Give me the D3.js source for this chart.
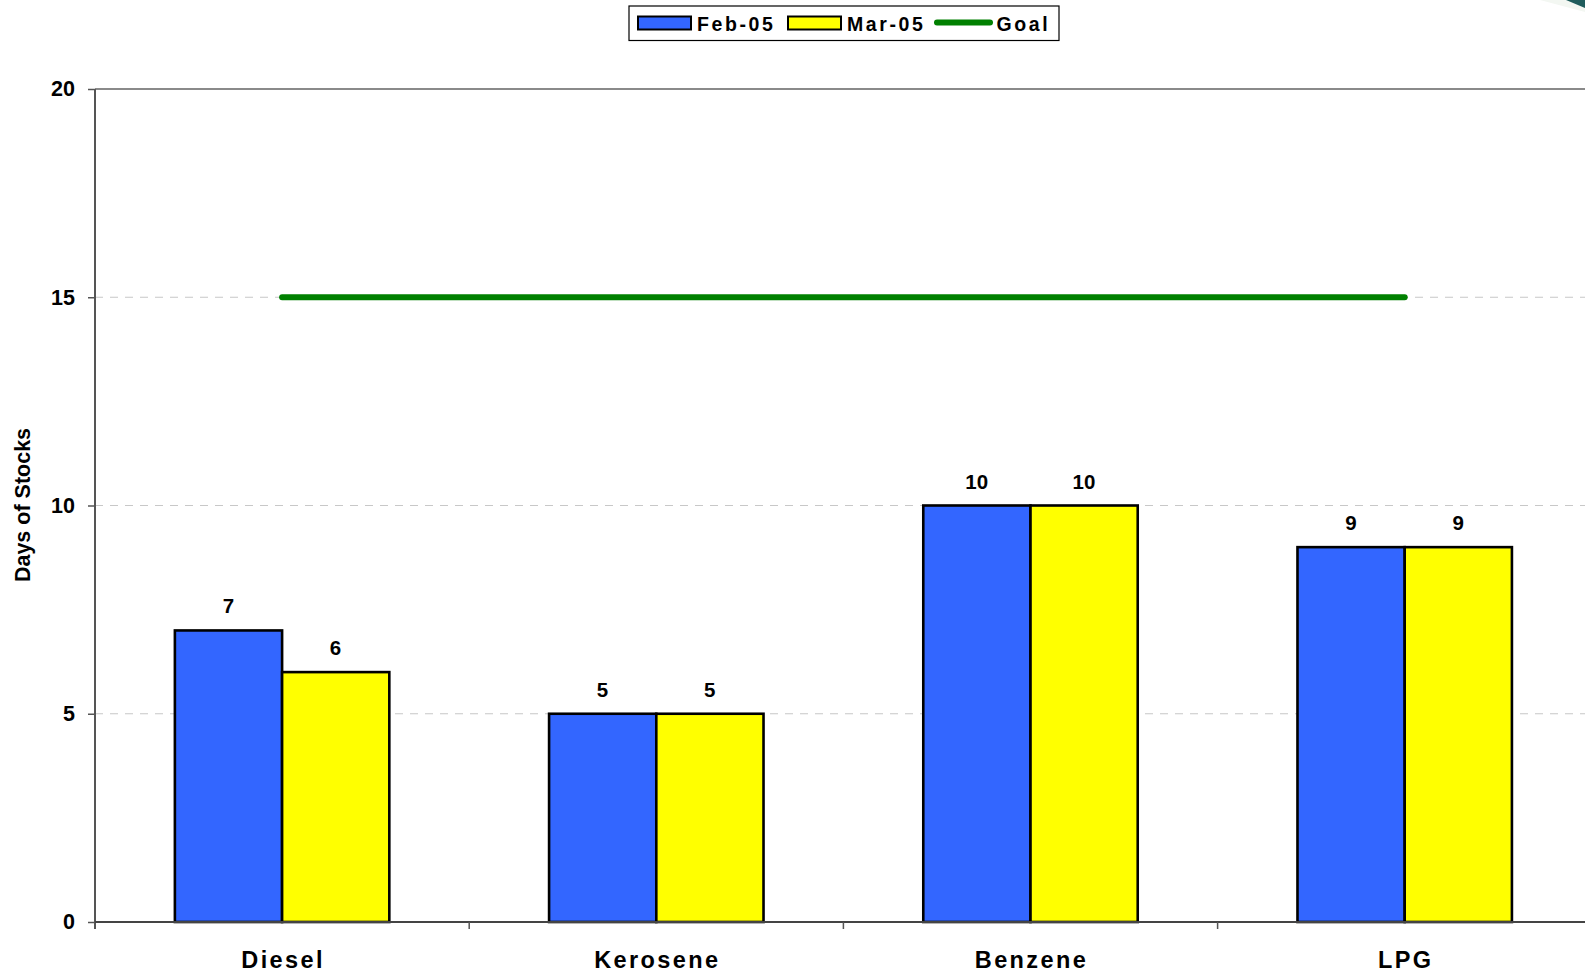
<!DOCTYPE html>
<html><head><meta charset="utf-8">
<script src="https://cdn.jsdelivr.net/npm/d3@7"></script>
<style>
html,body{margin:0;padding:0;background:#fff;overflow:hidden}
text{font-family:"Liberation Sans",Arial,sans-serif;font-weight:bold;fill:#000}
</style></head>
<body>
<svg id="chart" width="1585" height="973"></svg>
<script>
const categories = ["Diesel", "Kerosene", "Benzene", "LPG"];
const seriesNames = ["Feb-05", "Mar-05"];
const feb05 = [7, 5, 10, 9];
const mar05 = [6, 5, 10, 9];
const goal = [15, 15, 15, 15];
const yTicks = [0, 5, 10, 15, 20];
const colors = {"Feb-05": "#3366ff", "Mar-05": "#ffff00", "Goal": "#008000"};

(function () {
const svg = d3.select("#chart");
const mLeft = 95, mTop = 89, mBottom = 922;
const bandW = 374.2;
const mRight = mLeft + bandW * categories.length;

const x = d3.scaleBand().domain(categories).range([mLeft, mRight]).paddingInner(0).paddingOuter(0);
const xs = d3.scaleBand().domain(seriesNames).range([0, x.bandwidth()]).paddingInner(0).paddingOuter(0.745);
const y = d3.scaleLinear().domain([0, 20]).range([mBottom, mTop]);

// corner fragment of a logo (top-right)
svg.append("path").attr("d", "M1540,0L1585,0L1585,12Z").attr("fill", "#f3f7f2");
svg.append("path").attr("d", "M1566,0L1585,0L1585,8Z").attr("fill", "#1f5c5c");

// gridlines
svg.append("g").selectAll("line").data(yTicks.filter(d => d > 0 && d < 20)).join("line")
  .attr("x1", mLeft).attr("x2", 1585).attr("y1", d => y(d)).attr("y2", d => y(d))
  .attr("stroke", "#c8c8c8").attr("stroke-width", 1.2).attr("stroke-dasharray", "8,7");

// top border
svg.append("line").attr("x1", mLeft).attr("x2", 1585).attr("y1", y(20)).attr("y2", y(20))
  .attr("stroke", "#8a8a8a").attr("stroke-width", 2);

// bars
const data = categories.map((c, i) => ({cat: c, vals: [{s: "Feb-05", v: feb05[i]}, {s: "Mar-05", v: mar05[i]}]}));
const g = svg.append("g");
data.forEach(d => {
  d.vals.forEach(p => {
    g.append("rect")
      .attr("x", x(d.cat) + xs(p.s)).attr("width", xs.bandwidth())
      .attr("y", y(p.v)).attr("height", y(0) - y(p.v))
      .attr("fill", colors[p.s]).attr("stroke", "#000").attr("stroke-width", 2.6);
    g.append("text")
      .attr("x", x(d.cat) + xs(p.s) + xs.bandwidth() / 2)
      .attr("y", y(p.v) - 17)
      .attr("text-anchor", "middle").attr("font-size", 20.5).attr("letter-spacing", 0.3)
      .text(p.v);
  });
});

// goal line
const line = d3.line().x((d, i) => x(categories[i]) + x.bandwidth() / 2).y(d => y(d));
svg.append("path").datum(goal).attr("d", line)
  .attr("fill", "none").attr("stroke", colors.Goal).attr("stroke-width", 6).attr("stroke-linecap", "round");

// y axis
const yAxis = d3.axisLeft(y).tickValues(yTicks).tickSize(7).tickPadding(13).tickFormat(d3.format("d"));
const ya = svg.append("g").attr("transform", `translate(${mLeft},0)`).call(yAxis);
ya.select(".domain").attr("stroke", "#555").attr("stroke-width", 2).attr("d", `M0,${mTop}V${mBottom + 7}`);
ya.selectAll(".tick line").attr("stroke", "#555").attr("stroke-width", 1.5);
ya.selectAll(".tick text").attr("font-size", 21.5).attr("font-family", "Liberation Sans, Arial, sans-serif")
  .attr("font-weight", "bold").attr("fill", "#000");

// x axis baseline
const xa = svg.append("g").attr("transform", `translate(0,${mBottom})`);
xa.append("line").attr("x1", mLeft).attr("x2", 1585).attr("y1", 0).attr("y2", 0)
  .attr("stroke", "#444").attr("stroke-width", 2);
xa.selectAll(".tk").data(categories.slice(1)).join("line")
  .attr("x1", d => x(d)).attr("x2", d => x(d)).attr("y1", 0).attr("y2", 7)
  .attr("stroke", "#555").attr("stroke-width", 1.5);
xa.selectAll(".cl").data(categories).join("text")
  .attr("x", d => x(d) + x.bandwidth() / 2 + 1).attr("y", 46)
  .attr("text-anchor", "middle").attr("font-size", 23.5).attr("letter-spacing", 2.4)
  .text(d => d);

// y label
svg.append("text").attr("transform", "translate(30,505) rotate(-90)")
  .attr("text-anchor", "middle").attr("font-size", 21.5).text("Days of Stocks");

// legend
const lg = svg.append("g");
lg.append("rect").attr("x", 629).attr("y", 6).attr("width", 430).attr("height", 34.5)
  .attr("fill", "#fff").attr("stroke", "#000").attr("stroke-width", 1.2);
lg.append("rect").attr("x", 638).attr("y", 16.5).attr("width", 53).attr("height", 13)
  .attr("fill", colors["Feb-05"]).attr("stroke", "#000").attr("stroke-width", 2);
lg.append("text").attr("x", 697).attr("y", 30.5).attr("font-size", 19.5).attr("letter-spacing", 2.6).text("Feb-05");
lg.append("rect").attr("x", 788).attr("y", 16.5).attr("width", 53).attr("height", 13)
  .attr("fill", colors["Mar-05"]).attr("stroke", "#000").attr("stroke-width", 2);
lg.append("text").attr("x", 847).attr("y", 30.5).attr("font-size", 19.5).attr("letter-spacing", 2.6).text("Mar-05");
lg.append("line").attr("x1", 937).attr("x2", 990).attr("y1", 22.5).attr("y2", 22.5)
  .attr("stroke", colors.Goal).attr("stroke-width", 6).attr("stroke-linecap", "round");
lg.append("text").attr("x", 996.5).attr("y", 30.5).attr("font-size", 19.5).attr("letter-spacing", 2.6).text("Goal");
})();
</script>
</body></html>
